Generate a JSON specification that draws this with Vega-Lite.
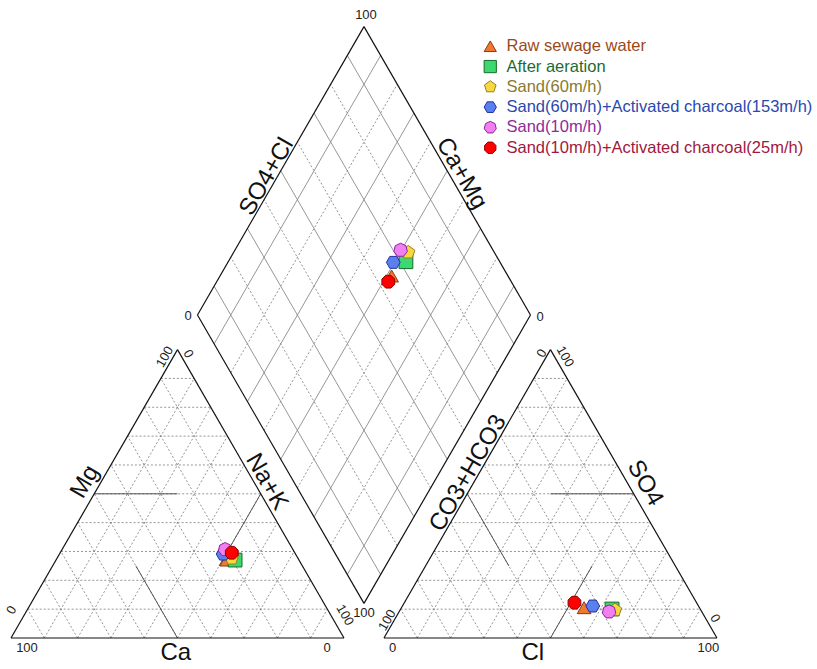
{
"$schema": "https://vega.github.io/schema/vega-lite/v6.json",
"width": 817, "height": 669, "autosize": {"type": "none"}, "padding": 0,
"background": "white",
"config": {"view": {"stroke": null}},
"datasets": {
"segs": [
{"k":"b","x":0,"y":0,"x2":100,"y2":0},{"k":"b","x":100,"y":0,"x2":50,"y2":86.603},{"k":"b","x":50,"y":86.603,"x2":0,"y2":0},
{"k":"b","x":112,"y":0,"x2":212,"y2":0},{"k":"b","x":212,"y":0,"x2":162,"y2":86.603},{"k":"b","x":162,"y":86.603,"x2":112,"y2":0},
{"k":"b","x":106,"y":10.392,"x2":156,"y2":96.995},{"k":"b","x":156,"y":96.995,"x2":106,"y2":183.597},{"k":"b","x":106,"y":183.597,"x2":56,"y2":96.995},{"k":"b","x":56,"y":96.995,"x2":106,"y2":10.392},
{"k":"c","x":25,"y":43.301,"x2":50,"y2":43.301},{"k":"c","x":50,"y":0,"x2":37.5,"y2":21.651},{"k":"c","x":75,"y":43.301,"x2":62.5,"y2":21.651},
{"k":"c","x":162,"y":43.301,"x2":187,"y2":43.301},{"k":"c","x":137,"y":43.301,"x2":149.5,"y2":21.651},{"k":"c","x":162,"y":0,"x2":174.5,"y2":21.651},
{"k":"d","x":5,"y":8.66,"x2":95,"y2":8.66},{"k":"d","x":10,"y":17.32,"x2":90,"y2":17.32},{"k":"d","x":15,"y":25.98,"x2":85,"y2":25.98},{"k":"d","x":20,"y":34.64,"x2":80,"y2":34.64},{"k":"d","x":25,"y":43.3,"x2":75,"y2":43.3},{"k":"d","x":30,"y":51.96,"x2":70,"y2":51.96},{"k":"d","x":35,"y":60.62,"x2":65,"y2":60.62},{"k":"d","x":40,"y":69.28,"x2":60,"y2":69.28},{"k":"d","x":45,"y":77.94,"x2":55,"y2":77.94},
{"k":"d","x":10,"y":0,"x2":5,"y2":8.66},{"k":"d","x":20,"y":0,"x2":10,"y2":17.32},{"k":"d","x":30,"y":0,"x2":15,"y2":25.98},{"k":"d","x":40,"y":0,"x2":20,"y2":34.64},{"k":"d","x":50,"y":0,"x2":25,"y2":43.3},{"k":"d","x":60,"y":0,"x2":30,"y2":51.96},{"k":"d","x":70,"y":0,"x2":35,"y2":60.62},{"k":"d","x":80,"y":0,"x2":40,"y2":69.28},{"k":"d","x":90,"y":0,"x2":45,"y2":77.94},
{"k":"d","x":10,"y":0,"x2":55,"y2":77.94},{"k":"d","x":20,"y":0,"x2":60,"y2":69.28},{"k":"d","x":30,"y":0,"x2":65,"y2":60.62},{"k":"d","x":40,"y":0,"x2":70,"y2":51.96},{"k":"d","x":50,"y":0,"x2":75,"y2":43.3},{"k":"d","x":60,"y":0,"x2":80,"y2":34.64},{"k":"d","x":70,"y":0,"x2":85,"y2":25.98},{"k":"d","x":80,"y":0,"x2":90,"y2":17.32},{"k":"d","x":90,"y":0,"x2":95,"y2":8.66},
{"k":"d","x":117,"y":8.66,"x2":207,"y2":8.66},{"k":"d","x":122,"y":17.32,"x2":202,"y2":17.32},{"k":"d","x":127,"y":25.98,"x2":197,"y2":25.98},{"k":"d","x":132,"y":34.64,"x2":192,"y2":34.64},{"k":"d","x":137,"y":43.3,"x2":187,"y2":43.3},{"k":"d","x":142,"y":51.96,"x2":182,"y2":51.96},{"k":"d","x":147,"y":60.62,"x2":177,"y2":60.62},{"k":"d","x":152,"y":69.28,"x2":172,"y2":69.28},{"k":"d","x":157,"y":77.94,"x2":167,"y2":77.94},
{"k":"d","x":122,"y":0,"x2":117,"y2":8.66},{"k":"d","x":132,"y":0,"x2":122,"y2":17.32},{"k":"d","x":142,"y":0,"x2":127,"y2":25.98},{"k":"d","x":152,"y":0,"x2":132,"y2":34.64},{"k":"d","x":162,"y":0,"x2":137,"y2":43.3},{"k":"d","x":172,"y":0,"x2":142,"y2":51.96},{"k":"d","x":182,"y":0,"x2":147,"y2":60.62},{"k":"d","x":192,"y":0,"x2":152,"y2":69.28},{"k":"d","x":202,"y":0,"x2":157,"y2":77.94},
{"k":"d","x":122,"y":0,"x2":167,"y2":77.94},{"k":"d","x":132,"y":0,"x2":172,"y2":69.28},{"k":"d","x":142,"y":0,"x2":177,"y2":60.62},{"k":"d","x":152,"y":0,"x2":182,"y2":51.96},{"k":"d","x":162,"y":0,"x2":187,"y2":43.3},{"k":"d","x":172,"y":0,"x2":192,"y2":34.64},{"k":"d","x":182,"y":0,"x2":197,"y2":25.98},{"k":"d","x":192,"y":0,"x2":202,"y2":17.32},{"k":"d","x":202,"y":0,"x2":207,"y2":8.66},
{"k":"s","x":101,"y":19.052,"x2":151,"y2":105.655},{"k":"d","x":96,"y":27.713,"x2":146,"y2":114.316},{"k":"s","x":91,"y":36.373,"x2":141,"y2":122.976},{"k":"d","x":86,"y":45.033,"x2":136,"y2":131.636},{"k":"s","x":81,"y":53.694,"x2":131,"y2":140.297},{"k":"d","x":76,"y":62.354,"x2":126,"y2":148.957},{"k":"s","x":71,"y":71.014,"x2":121,"y2":157.617},{"k":"d","x":66,"y":79.674,"x2":116,"y2":166.277},{"k":"s","x":61,"y":88.335,"x2":111,"y2":174.938},
{"k":"s","x":111,"y":19.052,"x2":61,"y2":105.655},{"k":"d","x":116,"y":27.713,"x2":66,"y2":114.316},{"k":"s","x":121,"y":36.373,"x2":71,"y2":122.976},{"k":"d","x":126,"y":45.033,"x2":76,"y2":131.636},{"k":"s","x":131,"y":53.694,"x2":81,"y2":140.297},{"k":"d","x":136,"y":62.354,"x2":86,"y2":148.957},{"k":"s","x":141,"y":71.014,"x2":91,"y2":157.617},{"k":"d","x":146,"y":79.674,"x2":96,"y2":166.277},{"k":"s","x":151,"y":88.335,"x2":101,"y2":174.938}
],
"labels": [
{"g":"T-60","t":"SO4+Cl","x":76.8,"y":138.5},
{"g":"T60","t":"Ca+Mg","x":135.3,"y":139.5},
{"g":"T-60","t":"Mg","x":22.2,"y":46.9},
{"g":"T60","t":"Na+K","x":76.8,"y":46.9},
{"g":"T0","t":"Ca","x":49.5,"y":-4.6},
{"g":"T-60","t":"CO3+HCO3","x":137.3,"y":49.5},
{"g":"T60","t":"SO4","x":190.4,"y":46.5},
{"g":"T0","t":"Cl","x":156.7,"y":-4.6},
{"g":"t-60","t":"100","x":46.2,"y":84.4},
{"g":"t60","t":"0","x":53.2,"y":85.3},
{"g":"t-60","t":"0","x":0.2,"y":8.4},
{"g":"t0","t":"100","x":4.8,"y":-3.0},
{"g":"t0","t":"0","x":94.9,"y":-3.0},
{"g":"t60","t":"100","x":100.3,"y":6.9},
{"g":"t-60","t":"0","x":159.4,"y":85.5},
{"g":"t60","t":"100","x":166.4,"y":84.5},
{"g":"t-60","t":"100","x":113.0,"y":5.4},
{"g":"t0","t":"0","x":114.6,"y":-3.1},
{"g":"t0","t":"100","x":209.4,"y":-3.1},
{"g":"t60","t":"0","x":211.4,"y":5.9},
{"g":"t0","t":"100","x":106.6,"y":187.1},
{"g":"t0","t":"0","x":53.2,"y":96.6},
{"g":"t0","t":"0","x":158.9,"y":96.5},
{"g":"t0","t":"100","x":106.0,"y":7.5}
],
"points": [
{"sample":"Raw sewage water","x":64.8,"y":23.4},{"sample":"Raw sewage water","x":172.1,"y":9.1},{"sample":"Raw sewage water","x":114.3,"y":108.7},
{"sample":"After aeration","x":67.3,"y":23.4},{"sample":"After aeration","x":180.5,"y":8.7},{"sample":"After aeration","x":118.6,"y":113.0},
{"sample":"Sand(60m/h)","x":66.3,"y":23.9},{"sample":"Sand(60m/h)","x":181.4,"y":8.4},{"sample":"Sand(60m/h)","x":119.3,"y":115.8},
{"sample":"Sand(60m/h)+Activated charcoal(153m/h)","x":63.7,"y":25.2},{"sample":"Sand(60m/h)+Activated charcoal(153m/h)","x":174.7,"y":9.6},{"sample":"Sand(60m/h)+Activated charcoal(153m/h)","x":114.8,"y":112.8},
{"sample":"Sand(10m/h)","x":64.3,"y":26.6},{"sample":"Sand(10m/h)","x":179.6,"y":7.9},{"sample":"Sand(10m/h)","x":117.0,"y":116.5},
{"sample":"Sand(10m/h)+Activated charcoal(25m/h)","x":66.3,"y":25.6},{"sample":"Sand(10m/h)+Activated charcoal(25m/h)","x":169.2,"y":10.6},{"sample":"Sand(10m/h)+Activated charcoal(25m/h)","x":113.3,"y":107.0}
]
},
"encoding": {
"x": {"field": "x", "type": "quantitative", "scale": {"domain": [-3.3, 242.04], "nice": false, "zero": false}, "axis": null},
"y": {"field": "y", "type": "quantitative", "scale": {"domain": [-9.31, 191.59], "nice": false, "zero": false}, "axis": null}
},
"layer": [
{"data": {"name": "segs"}, "transform": [{"filter": "datum.k=='d'"}], "mark": {"type": "rule", "color": "#7a7a7a", "strokeWidth": 0.8, "strokeDash": [2, 2]}, "encoding": {"x2": {"field": "x2"}, "y2": {"field": "y2"}}},
{"data": {"name": "segs"}, "transform": [{"filter": "datum.k=='s'"}], "mark": {"type": "rule", "color": "#8a8a8a", "strokeWidth": 0.9}, "encoding": {"x2": {"field": "x2"}, "y2": {"field": "y2"}}},
{"data": {"name": "segs"}, "transform": [{"filter": "datum.k=='c'"}], "mark": {"type": "rule", "color": "#555555", "strokeWidth": 1}, "encoding": {"x2": {"field": "x2"}, "y2": {"field": "y2"}}},
{"data": {"name": "segs"}, "transform": [{"filter": "datum.k=='b'"}], "mark": {"type": "rule", "color": "#111111", "strokeWidth": 1.2}, "encoding": {"x2": {"field": "x2"}, "y2": {"field": "y2"}}},
{"data": {"name": "labels"}, "transform": [{"filter": "datum.g=='T0'"}], "mark": {"type": "text", "font": "Liberation Sans", "fontSize": 24, "align": "center", "baseline": "middle", "color": "#111"}, "encoding": {"text": {"field": "t"}}},
{"data": {"name": "labels"}, "transform": [{"filter": "datum.g=='T-60'"}], "mark": {"type": "text", "font": "Liberation Sans", "fontSize": 24, "align": "center", "baseline": "middle", "angle": 300, "color": "#111"}, "encoding": {"text": {"field": "t"}}},
{"data": {"name": "labels"}, "transform": [{"filter": "datum.g=='T60'"}], "mark": {"type": "text", "font": "Liberation Sans", "fontSize": 24, "align": "center", "baseline": "middle", "angle": 60, "color": "#111"}, "encoding": {"text": {"field": "t"}}},
{"data": {"name": "labels"}, "transform": [{"filter": "datum.g=='t0'"}], "mark": {"type": "text", "font": "Liberation Sans", "fontSize": 13, "align": "center", "baseline": "middle", "color": "#222"}, "encoding": {"text": {"field": "t"}}},
{"data": {"name": "labels"}, "transform": [{"filter": "datum.g=='t-60'"}], "mark": {"type": "text", "font": "Liberation Sans", "fontSize": 13, "align": "center", "baseline": "middle", "angle": 300, "color": "#222"}, "encoding": {"text": {"field": "t"}}},
{"data": {"name": "labels"}, "transform": [{"filter": "datum.g=='t60'"}], "mark": {"type": "text", "font": "Liberation Sans", "fontSize": 13, "align": "center", "baseline": "middle", "angle": 60, "color": "#222"}, "encoding": {"text": {"field": "t"}}},
{"data": {"name": "points"}, "mark": {"type": "point", "filled": true, "opacity": 1, "size": 190, "strokeWidth": 1, "strokeOpacity": 1, "fillOpacity": 1},
 "encoding": {
  "shape": {"field": "sample", "type": "nominal", "sort": null,
   "scale": {"domain": ["Raw sewage water","After aeration","Sand(60m/h)","Sand(60m/h)+Activated charcoal(153m/h)","Sand(10m/h)","Sand(10m/h)+Activated charcoal(25m/h)"],
    "range": ["triangle-up","square","M0,-1L0.951,-0.309L0.588,0.809L-0.588,0.809L-0.951,-0.309Z","M1,0L0.5,0.866L-0.5,0.866L-1,0L-0.5,-0.866L0.5,-0.866Z","M0,-1L0.782,-0.623L0.975,0.223L0.434,0.901L-0.434,0.901L-0.975,0.223L-0.782,-0.623Z","M0.924,0.383L0.383,0.924L-0.383,0.924L-0.924,0.383L-0.924,-0.383L-0.383,-0.924L0.383,-0.924L0.924,-0.383Z"]}},
  "fill": {"field": "sample", "type": "nominal", "sort": null,
   "scale": {"domain": ["Raw sewage water","After aeration","Sand(60m/h)","Sand(60m/h)+Activated charcoal(153m/h)","Sand(10m/h)","Sand(10m/h)+Activated charcoal(25m/h)"],
    "range": ["#f07830","#3cd870","#f8d840","#5a80f0","#f080f0","#ff0000"]},
   "legend": {"title": null, "orient": "none", "legendX": 482, "legendY": 38, "padding": 0, "labelFont": "Liberation Sans", "labelFontSize": 16.5, "labelLimit": 500, "symbolSize": 150, "symbolStrokeWidth": 1, "symbolOpacity": 1, "rowPadding": 3.3, "labelOffset": 8,
    "encode": {"labels": {"update": {"fill": {"signal": "datum.value=='Raw sewage water'?'#9a4a1a':datum.value=='After aeration'?'#1e6b30':datum.value=='Sand(60m/h)'?'#8a7a30':datum.value=='Sand(60m/h)+Activated charcoal(153m/h)'?'#2a48b0':datum.value=='Sand(10m/h)'?'#902a9a':'#a01840'"}}}}}},
  "stroke": {"field": "sample", "type": "nominal", "sort": null,
   "scale": {"domain": ["Raw sewage water","After aeration","Sand(60m/h)","Sand(60m/h)+Activated charcoal(153m/h)","Sand(10m/h)","Sand(10m/h)+Activated charcoal(25m/h)"],
    "range": ["#8b3a10","#1a6a2a","#9a8020","#2030a0","#9020a0","#900000"]}}
 }}
]
}
